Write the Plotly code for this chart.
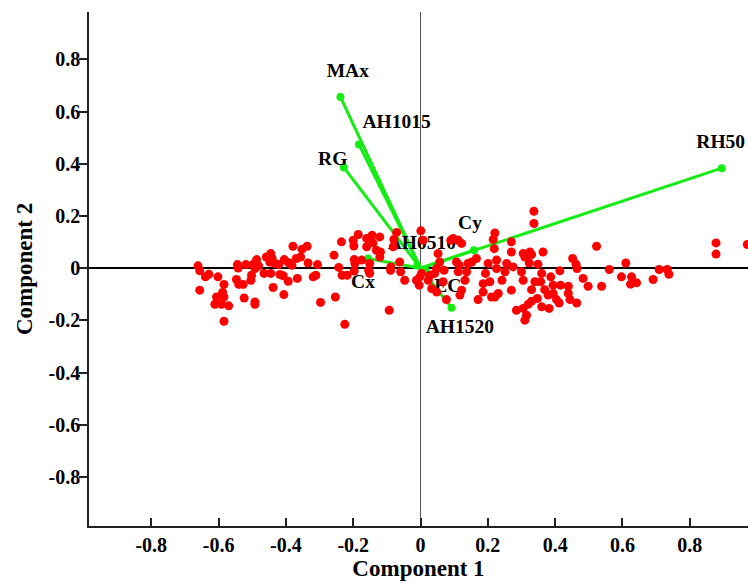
import plotly.graph_objects as go

# Sample scores on the first two principal components
score_pc1 = [
    -0.661, -0.656, -0.639, -0.629, -0.656, -0.602, -0.584, -0.606, -0.588, -0.584,
    -0.611, -0.591, -0.570, -0.584, -0.544, -0.542, -0.547, -0.540, -0.527, -0.524,
    -0.519, -0.504, -0.502, -0.498, -0.487, -0.492, -0.481, -0.492, -0.492, -0.465,
    -0.458, -0.445, -0.448, -0.441, -0.433, -0.445, -0.438, -0.421, -0.405, -0.418,
    -0.408, -0.393, -0.406, -0.393, -0.382, -0.379, -0.369, -0.356, -0.352, -0.337,
    -0.366, -0.334, -0.319, -0.311, -0.306, -0.297,
    -0.257, -0.243, -0.235, -0.233, -0.218, -0.200, -0.198, -0.197, -0.197, -0.195,
    -0.185, -0.175, -0.160, -0.160, -0.154, -0.151, -0.151, -0.144, -0.141, -0.131,
    -0.121, -0.119, -0.121, -0.253, -0.225, -0.093, -0.088, -0.089, -0.071, -0.079,
    -0.081, -0.062, -0.059, -0.047, -0.012, -0.004, -0.002, 0.003, 0.001, 0.008,
    0.052, 0.057, 0.048, 0.042, 0.028, 0.023, 0.033, 0.048, 0.067, 0.070,
    0.077, 0.090, 0.097, 0.112, 0.122, 0.107, 0.112, 0.115, 0.122, 0.117,
    0.132, 0.137, 0.141, 0.152, 0.166, 0.171, 0.186, 0.186, 0.193, 0.201,
    0.206, 0.211, 0.216, 0.221, 0.219, 0.226, 0.226, 0.221, 0.231, 0.242,
    0.251, 0.256, 0.270, 0.270, 0.270, 0.275, 0.285, 0.305, 0.300, 0.305,
    0.305, 0.310,
    0.337, 0.337, 0.325, 0.330, 0.310, 0.323, 0.349, 0.364, 0.360, 0.340,
    0.357, 0.387, 0.414, 0.369, 0.330, 0.394, 0.416, 0.394, 0.379, 0.347,
    0.330, 0.320, 0.404, 0.412, 0.439, 0.439, 0.444, 0.464, 0.360, 0.382,
    0.315, 0.452, 0.462, 0.465, 0.483, 0.498, 0.523, 0.538, 0.561, 0.597,
    0.610, 0.627, 0.624,
    0.642, 0.691, 0.709, 0.733, 0.738, 0.878, 0.878, 0.971,
]
score_pc2 = [
    0.009, -0.010, -0.033, -0.023, -0.084, -0.033, -0.062, -0.110, -0.093, -0.110,
    -0.138, -0.138, -0.144, -0.203, 0.014, 0.001, -0.043, -0.062, -0.062, -0.114,
    0.014, -0.046, -0.027, 0.014, 0.033, -0.001, 0.009, -0.129, -0.138, -0.020,
    0.043, 0.056, 0.024, 0.037, 0.018, -0.020, -0.074, 0.014, 0.033, -0.024,
    -0.029, -0.050, -0.101, 0.022, 0.011, 0.084, 0.037, 0.043, 0.073, 0.084,
    -0.039, 0.020, -0.033, -0.027, 0.014, -0.131,
    0.050, 0.003, 0.101, -0.027, -0.027, 0.107, 0.085, -0.011, 0.033, 0.018,
    0.129, 0.031, 0.114, 0.082, -0.008, -0.020, 0.018, 0.126, 0.097, 0.069,
    0.120, 0.062, 0.043, -0.110, -0.215, -0.161, 0.005, -0.008, 0.137, 0.110,
    0.082, 0.024, -0.014, -0.046, -0.046, -0.065, -0.033, -0.020, 0.143, 0.107,
    0.056, 0.024, -0.001, -0.020, -0.027, -0.046, -0.078, -0.091, -0.052, -0.008,
    -0.120, 0.107, 0.114, 0.107, 0.095, 0.024, -0.014, 0.011, -0.084, -0.103,
    -0.046, -0.014, 0.018, 0.024, 0.037, -0.120, -0.059, -0.091, -0.020, 0.018,
    -0.052, -0.110, 0.110, 0.135, 0.075, 0.031, -0.001, -0.110, -0.097, -0.046,
    -0.014, 0.018, 0.101, 0.062, -0.084, 0.005, -0.161, 0.056, -0.014, -0.046,
    -0.154, -0.199,
    0.218, 0.171, 0.062, 0.052, 0.043, 0.020, 0.015, 0.062, -0.020, -0.052,
    -0.052, -0.033, -0.010, -0.082, -0.082, -0.065, -0.065, -0.097, -0.103, -0.116,
    -0.126, -0.138, -0.120, -0.133, -0.069, -0.097, -0.120, -0.133, -0.148, -0.154,
    -0.180, 0.037, 0.015, -0.001, -0.039, -0.069, 0.084, -0.069, -0.005, -0.033,
    0.020, -0.033, -0.061,
    -0.056, -0.043, -0.005, -0.005, -0.023, 0.097, 0.054, 0.091,
]

# Variable loadings (vector tips) and their label positions
var_names = ["MAx", "AH1015", "RG", "RH50", "Cy", "Cx", "AH1520", "EC", "AH0510"]
load_pc1 = [-0.238, -0.183, -0.228, 0.895, 0.159, -0.156, 0.092, 0.016, -0.010]
load_pc2 = [0.656, 0.474, 0.386, 0.383, 0.069, 0.037, -0.151, -0.012, 0.010]
label_pc1 = [-0.216, -0.071, -0.261, 0.892, 0.147, -0.171, 0.117, 0.081, 0.004]
label_pc2 = [0.751, 0.554, 0.414, 0.479, 0.169, -0.057, -0.230, -0.073, 0.092]

tick_vals = [-0.8, -0.6, -0.4, -0.2, 0, 0.2, 0.4, 0.6, 0.8]
tick_text = ["-0.8", "-0.6", "-0.4", "-0.2", "0", "0.2", "0.4", "0.6", "0.8"]

GREEN = "#14ec14"
SERIF = "Liberation Serif"

fig = go.Figure()

# Loading vectors from the origin
vx, vy = [], []
for a, b in zip(load_pc1, load_pc2):
    vx += [0, a, None]
    vy += [0, b, None]
fig.add_trace(go.Scatter(x=vx, y=vy, mode="lines",
                         line=dict(color=GREEN, width=3), hoverinfo="skip"))
fig.add_trace(go.Scatter(x=load_pc1, y=load_pc2, mode="markers",
                         marker=dict(color=GREEN, size=8), hoverinfo="skip"))

# Variable names (drawn beneath the sample points)
fig.add_trace(go.Scatter(x=label_pc1, y=label_pc2, mode="text", text=var_names,
                         textposition="middle center",
                         textfont=dict(family=SERIF, size=19.5, color="black", weight="bold"),
                         hoverinfo="skip"))

# Sample scores
fig.add_trace(go.Scatter(x=score_pc1, y=score_pc2, mode="markers",
                         marker=dict(color="#ff0000", size=9, line=dict(width=0))))

axis_font = dict(family=SERIF, size=20, color="black", weight="bold")
title_font = dict(family=SERIF, size=23, color="black", weight="bold")

fig.update_layout(
    width=748, height=583,
    margin=dict(l=89, r=0, t=12, b=57),
    paper_bgcolor="white", plot_bgcolor="white",
    showlegend=False,
    xaxis=dict(
        range=[-0.985, 0.973], showgrid=False,
        zeroline=True, zerolinecolor="#555555", zerolinewidth=1,
        showline=True, linecolor="#222222", linewidth=1.5,
        ticks="inside", ticklen=8, tickcolor="#222222", tickwidth=1.5,
        tickvals=tick_vals, ticktext=tick_text, tickfont=axis_font,
        title=dict(text="Component 1", font=title_font, standoff=2),
    ),
    yaxis=dict(
        range=[-0.987, 0.981], showgrid=False,
        zeroline=True, zerolinecolor="black", zerolinewidth=1.5,
        showline=True, linecolor="#222222", linewidth=1.5,
        ticks="outside", ticklen=8, tickcolor="#222222", tickwidth=1.5,
        ticklabelstandoff=-5,
        tickvals=tick_vals, ticktext=tick_text, tickfont=axis_font,
        title=dict(text="Component 2", font=title_font, standoff=10),
    ),
)

fig.write_html("out.html")
